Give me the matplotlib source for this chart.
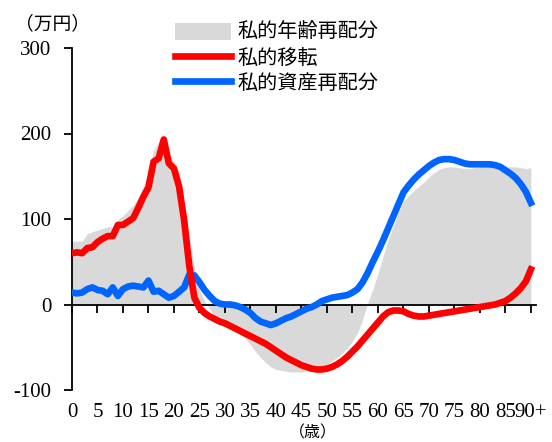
import numpy as np
import matplotlib
matplotlib.use("Agg")
import matplotlib.pyplot as plt
from matplotlib.patches import Patch
from matplotlib.lines import Line2D

plt.rcParams['font.family'] = ['Liberation Serif', 'Noto Sans CJK JP']

# ages 0 .. 90 (90 = "90+")
ages = np.arange(0, 91)

# 私的年齢再配分 (gray area), 万円
age_realloc = [74, 74, 74, 83, 85, 87, 89, 91, 90, 99,
               104, 110, 116, 125, 138, 155, 180, 190, 198, 172,
               168, 152, 118, 80, 42, 17, 4, -5, -14, -19,
               -22, -25, -29, -34, -40, -47, -55, -62, -68, -73,
               -76, -77, -78, -79, -79, -79, -78, -78, -76, -73,
               -70, -66, -62, -57, -51, -43, -33, -18, 2, 18,
               36, 56, 75, 92, 107, 121, 127, 133, 138, 143,
               149, 154, 158, 160, 161, 161, 160, 159, 159, 160,
               161, 162, 163, 163, 163, 161, 161, 161, 160, 159,
               160]

# 私的移転 (red)
transfers = [60, 61, 60, 66, 67, 73, 77, 80, 80, 93,
             93, 97, 101, 113, 126, 137, 167, 171, 193, 165,
             159, 138, 98, 45, 8, -4, -10, -14, -17, -20,
             -22, -25, -28, -31, -34, -37, -40, -43, -46, -50,
             -54, -58, -62, -65, -68, -71, -73, -75, -76, -76,
             -75, -73, -70, -66, -61, -55, -49, -42, -35, -28,
             -21, -14, -9, -7, -7, -8, -11, -13, -14, -14,
             -13, -12, -11, -10, -9, -8, -7, -6, -5, -4,
             -3, -2, -1, 0, 2, 4, 8, 13, 19, 27,
             41]

# 私的資産再配分 (blue)
asset_realloc = [14, 13, 14, 18, 20, 17, 16, 12, 20, 10,
                 18, 21, 22, 21, 20, 28, 15, 16, 12, 8,
                 10, 15, 20, 35, 34, 26, 17, 10, 4, 1,
                 0, 0, -1, -3, -6, -10, -16, -20, -22, -24,
                 -22, -19, -16, -14, -11, -8, -5, -3, 0, 4,
                 6, 8, 9, 10, 11, 14, 18, 26, 37, 50,
                 62, 75, 89, 103, 117, 131, 139, 146, 152, 157,
                 162, 166, 169, 170, 170, 169, 167, 165, 164, 164,
                 164, 164, 164, 163, 161, 157, 153, 148, 141, 132,
                 119]

xtick_vals = list(range(0, 91, 5))
xtick_labels = [str(v) for v in range(0, 90, 5)] + ["90+"]
ytick_vals = [-100, 0, 100, 200, 300]
ytick_labels = ["-100", "0", "100", "200", "300"]

labels = ["私的年齢再配分", "私的移転", "私的資産再配分"]
gray = "#d9d9d9"
red = "#ff0000"
blue = "#0064ff"

fig = plt.figure(figsize=(5.52, 4.42), dpi=100)
ax = fig.add_axes([72 / 552, 1 - 390 / 442, 464 / 552, 342 / 442])

ax.fill_between(ages, 0, age_realloc, color=gray, linewidth=0, zorder=1)
ax.plot(ages, asset_realloc, color=blue, lw=4.8, solid_joinstyle="round", zorder=3)
ax.plot(ages, transfers, color=red, lw=4.8, solid_joinstyle="round", zorder=4)

ax.set_xlim(0, 91)
ax.set_ylim(-100, 300)

for s in ["top", "right"]:
    ax.spines[s].set_visible(False)
ax.spines["bottom"].set_position(("data", 0))
ax.spines["bottom"].set_linewidth(1.3)
ax.spines["left"].set_linewidth(1.3)

ax.set_yticks(ytick_vals)
ax.set_yticklabels(ytick_labels)
ax.set_xticks(xtick_vals)
ax.set_xticklabels(xtick_labels)
ax.tick_params(axis="y", direction="out", length=6, width=1.3, pad=9, labelsize=15)
ax.tick_params(axis="x", direction="out", length=6, width=1.3, pad=65, labelsize=15)

fig.text(52 / 552, 1 - 24 / 442, "（万円）", ha="center", va="center", fontsize=13.5)
fig.text(313 / 552, 1 - 433 / 442, "（歳）", ha="center", va="center", fontsize=11.5)

handles = [Patch(facecolor=gray, edgecolor="none"),
           Line2D([], [], color=red, lw=4.8),
           Line2D([], [], color=blue, lw=4.8)]
fig.legend(handles, labels, loc="upper left", bbox_to_anchor=(175 / 552, 1 - 23 / 442),
           frameon=False, fontsize=14.5, handlelength=2.8, handleheight=0.9,
           handletextpad=0.3, labelspacing=0.25, borderaxespad=0, borderpad=0)

fig.savefig("out.png", dpi=100)
